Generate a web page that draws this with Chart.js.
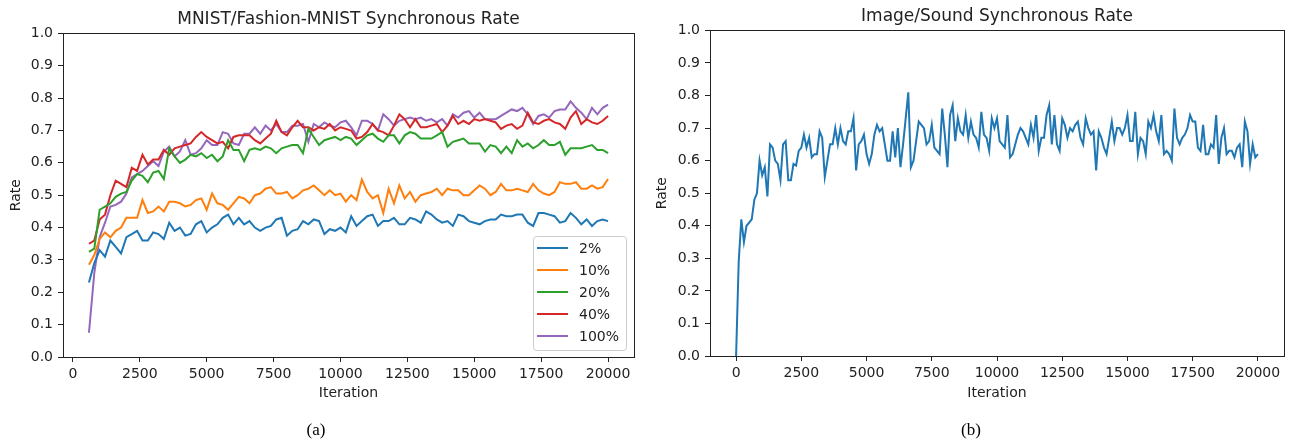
<!DOCTYPE html>
<html>
<head>
<meta charset="utf-8">
<script src="https://cdn.jsdelivr.net/npm/chart.js@4.4.1/dist/chart.umd.min.js"></script>
<style>
  body { margin: 0; background: #fff; }
  #wrap { position: relative; width: 1291px; height: 441px; }
  canvas { position: absolute; top: 0; }
  .cap { position: absolute; top: 430px; transform: translate(-50%, -50%);
         font-family: "Liberation Serif", serif; font-size: 17px; color: #000; }
</style>
</head>
<body>
<div id="wrap">
  <canvas id="chartA" width="645" height="441" style="left:0"></canvas>
  <canvas id="chartB" width="646" height="441" style="left:645px"></canvas>
  <div class="cap" style="left:316px">(a)</div>
  <div class="cap" style="left:971px">(b)</div>
</div>
<script>
// (a) iterations 600..20000, every 200
const startA = 600, stepA = 200;
const seriesNames = ['2%', '10%', '20%', '40%', '100%'];
const seriesColors = ['#1f77b4', '#ff7f0e', '#2ca02c', '#d62728', '#9467bd'];

const rate2 = [0.23,0.29,0.33,0.31,0.36,0.34,0.32,0.37,0.38,0.39,
  0.36,0.36,0.385,0.38,0.365,0.415,0.39,0.40,0.375,0.38,
  0.41,0.42,0.385,0.40,0.41,0.43,0.44,0.41,0.43,0.41,
  0.42,0.40,0.39,0.40,0.405,0.425,0.43,0.375,0.39,0.395,
  0.42,0.41,0.425,0.42,0.38,0.395,0.39,0.40,0.385,0.435,
  0.405,0.42,0.435,0.44,0.405,0.42,0.42,0.43,0.41,0.41,
  0.43,0.425,0.415,0.45,0.44,0.425,0.415,0.42,0.405,0.44,
  0.435,0.42,0.415,0.41,0.42,0.425,0.425,0.44,0.435,0.435,
  0.44,0.44,0.415,0.405,0.445,0.445,0.44,0.435,0.415,0.42,
  0.445,0.43,0.41,0.425,0.405,0.42,0.425,0.42];
const rate10 = [0.285,0.315,0.365,0.385,0.37,0.39,0.40,0.43,0.43,0.43,
  0.485,0.445,0.45,0.465,0.45,0.48,0.48,0.475,0.465,0.47,
  0.485,0.49,0.455,0.505,0.475,0.47,0.455,0.475,0.495,0.49,
  0.475,0.50,0.505,0.52,0.525,0.505,0.505,0.51,0.49,0.50,
  0.515,0.52,0.53,0.515,0.50,0.515,0.50,0.505,0.48,0.50,
  0.485,0.548,0.51,0.49,0.50,0.445,0.52,0.475,0.53,0.49,
  0.51,0.48,0.50,0.505,0.51,0.52,0.50,0.52,0.515,0.515,
  0.50,0.50,0.515,0.53,0.52,0.50,0.51,0.535,0.515,0.515,
  0.52,0.515,0.51,0.535,0.515,0.505,0.50,0.51,0.54,0.535,
  0.535,0.54,0.52,0.52,0.53,0.52,0.525,0.55];
const rate20 = [0.325,0.335,0.455,0.465,0.475,0.495,0.505,0.51,0.545,0.565,
  0.56,0.54,0.57,0.575,0.55,0.645,0.62,0.60,0.61,0.625,
  0.62,0.63,0.615,0.625,0.605,0.62,0.67,0.64,0.64,0.605,
  0.64,0.645,0.64,0.65,0.645,0.63,0.645,0.65,0.655,0.655,
  0.63,0.705,0.68,0.655,0.67,0.675,0.68,0.67,0.68,0.675,
  0.655,0.67,0.685,0.69,0.675,0.665,0.685,0.685,0.66,0.685,
  0.695,0.69,0.675,0.675,0.675,0.685,0.695,0.65,0.665,0.67,
  0.675,0.66,0.66,0.66,0.635,0.655,0.65,0.63,0.65,0.63,
  0.67,0.65,0.66,0.645,0.655,0.67,0.655,0.655,0.665,0.625,
  0.645,0.645,0.645,0.65,0.655,0.64,0.64,0.63];
const rate40 = [0.35,0.36,0.425,0.44,0.50,0.545,0.535,0.525,0.585,0.575,
  0.625,0.595,0.61,0.61,0.64,0.625,0.645,0.65,0.655,0.66,
  0.68,0.695,0.68,0.67,0.66,0.665,0.645,0.68,0.685,0.685,
  0.685,0.67,0.66,0.675,0.69,0.73,0.695,0.685,0.71,0.73,
  0.71,0.71,0.70,0.71,0.705,0.72,0.70,0.71,0.705,0.70,
  0.675,0.68,0.695,0.72,0.70,0.695,0.685,0.715,0.75,0.735,
  0.71,0.735,0.71,0.71,0.715,0.72,0.695,0.715,0.745,0.72,
  0.73,0.72,0.735,0.73,0.735,0.73,0.725,0.705,0.715,0.72,
  0.705,0.715,0.755,0.725,0.72,0.73,0.735,0.725,0.72,0.705,
  0.74,0.76,0.72,0.735,0.725,0.72,0.73,0.745];
const rate100 = [0.075,0.26,0.37,0.415,0.465,0.47,0.48,0.505,0.555,0.565,
  0.575,0.59,0.605,0.59,0.635,0.65,0.62,0.635,0.67,0.625,
  0.63,0.645,0.67,0.655,0.655,0.695,0.69,0.66,0.655,0.69,
  0.69,0.71,0.69,0.715,0.70,0.72,0.695,0.695,0.715,0.715,
  0.72,0.665,0.72,0.71,0.725,0.715,0.71,0.725,0.73,0.71,
  0.685,0.73,0.73,0.72,0.70,0.75,0.735,0.715,0.73,0.735,
  0.74,0.735,0.74,0.73,0.735,0.725,0.735,0.715,0.75,0.74,
  0.755,0.76,0.74,0.755,0.735,0.735,0.735,0.745,0.755,0.765,
  0.76,0.77,0.75,0.72,0.745,0.75,0.74,0.76,0.765,0.765,
  0.79,0.77,0.755,0.735,0.77,0.75,0.77,0.78];

// (b) iterations 0..20000, every 100
const startB = 0, stepB = 100;
const rateSound = [0,0.29,0.42,0.35,0.40,0.41,0.42,0.48,0.50,0.60,
  0.555,0.58,0.49,0.65,0.64,0.60,0.59,0.54,0.65,0.66,
  0.54,0.54,0.59,0.585,0.63,0.64,0.68,0.64,0.67,0.61,
  0.62,0.62,0.69,0.67,0.55,0.60,0.65,0.65,0.70,0.65,
  0.70,0.66,0.65,0.69,0.69,0.73,0.57,0.65,0.66,0.68,
  0.62,0.59,0.62,0.68,0.71,0.69,0.70,0.65,0.60,0.60,
  0.69,0.61,0.70,0.58,0.65,0.73,0.81,0.58,0.60,0.66,
  0.72,0.71,0.70,0.65,0.66,0.71,0.64,0.63,0.62,0.76,
  0.68,0.58,0.74,0.77,0.66,0.73,0.69,0.68,0.74,0.67,
  0.72,0.68,0.67,0.64,0.75,0.68,0.67,0.63,0.73,0.70,
  0.73,0.66,0.65,0.64,0.74,0.61,0.62,0.65,0.68,0.70,
  0.69,0.67,0.65,0.71,0.67,0.74,0.63,0.67,0.67,0.74,
  0.77,0.65,0.74,0.65,0.63,0.73,0.71,0.67,0.70,0.69,
  0.71,0.72,0.67,0.65,0.73,0.70,0.68,0.69,0.57,0.69,
  0.67,0.64,0.62,0.67,0.72,0.66,0.70,0.70,0.68,0.70,
  0.74,0.66,0.66,0.75,0.62,0.67,0.66,0.62,0.72,0.70,
  0.74,0.69,0.66,0.74,0.62,0.63,0.62,0.60,0.76,0.67,
  0.65,0.67,0.68,0.70,0.74,0.72,0.72,0.64,0.63,0.71,
  0.62,0.62,0.65,0.64,0.74,0.59,0.67,0.70,0.62,0.63,
  0.63,0.61,0.64,0.65,0.58,0.72,0.69,0.59,0.65,0.61,0.62];

const xTicks = [0, 2500, 5000, 7500, 10000, 12500, 15000, 17500, 20000];
const yTicks = [0, 0.1, 0.2, 0.3, 0.4, 0.5, 0.6, 0.7, 0.8, 0.9, 1.0];

const FONT = '"DejaVu Sans", sans-serif';
const INK = '#222';

function toPoints(vals, start, step) {
  return vals.map((v, i) => ({ x: start + i * step, y: v }));
}

// full box around the plot, like matplotlib spines
const spines = {
  id: 'spines',
  afterDatasetsDraw(chart) {
    const a = chart.chartArea, ctx = chart.ctx;
    ctx.save();
    ctx.strokeStyle = INK;
    ctx.lineWidth = 1;
    ctx.strokeRect(Math.round(a.left) + 0.5, Math.round(a.top) + 0.5,
      Math.round(a.right - a.left), Math.round(a.bottom - a.top));
    ctx.restore();
  }
};

// legend box in the lower right corner of the plot
const boxLegend = {
  id: 'boxLegend',
  afterDraw(chart) {
    const a = chart.chartArea, ctx = chart.ctx;
    const w = 93, h = 114;
    const left = a.right - 8 - w, top = a.bottom - 7 - h;
    ctx.save();
    ctx.beginPath();
    ctx.roundRect(left + 0.5, top + 0.5, w, h, 3);
    ctx.fillStyle = 'rgba(255,255,255,0.85)';
    ctx.fill();
    ctx.strokeStyle = '#cccccc';
    ctx.lineWidth = 1;
    ctx.stroke();
    ctx.font = '14px ' + FONT;
    ctx.textBaseline = 'middle';
    chart.data.datasets.forEach((ds, k) => {
      const y = top + 12 + 22 * k;
      ctx.strokeStyle = ds.borderColor;
      ctx.lineWidth = 2;
      ctx.beginPath();
      ctx.moveTo(left + 4, y);
      ctx.lineTo(left + 35, y);
      ctx.stroke();
      ctx.fillStyle = INK;
      ctx.fillText(ds.label, left + 46, y + 1);
    });
    ctx.restore();
  }
};

function makeOptions(title, xMin, xMax, yWidth, xHeight, padRight, titlePad, yTitlePad) {
  return {
    responsive: false,
    animation: false,
    layout: { padding: { left: 0, right: padRight, top: 0, bottom: 0 } },
    plugins: {
      legend: { display: false },
      tooltip: { enabled: false },
      title: {
        display: true, text: title, color: INK, fullSize: false,
        font: { family: FONT, size: 17, weight: 'normal' },
        padding: titlePad
      }
    },
    scales: {
      x: {
        type: 'linear', min: xMin, max: xMax,
        afterBuildTicks: s => { s.ticks = xTicks.map(v => ({ value: v })); },
        afterFit: s => { s.height = xHeight; },
        ticks: { color: INK, font: { family: FONT, size: 14 }, padding: 4, maxRotation: 0,
                 callback: v => String(v) },
        grid: { drawOnChartArea: false, drawTicks: true, tickLength: 5, color: INK },
        border: { display: false },
        title: { display: true, text: 'Iteration', color: INK,
                 font: { family: FONT, size: 14 }, padding: { top: 4, bottom: 39 } }
      },
      y: {
        min: 0, max: 1,
        afterBuildTicks: s => { s.ticks = yTicks.map(v => ({ value: v })); },
        afterFit: s => { s.width = yWidth; },
        ticks: { color: INK, font: { family: FONT, size: 14 }, padding: 5,
                 callback: v => v.toFixed(1) },
        grid: { drawOnChartArea: false, drawTicks: true, tickLength: 5, color: INK },
        border: { display: false },
        title: { display: true, text: 'Rate', color: INK,
                 font: { family: FONT, size: 14 }, padding: { top: yTitlePad, bottom: 4 } }
      }
    }
  };
}

const seriesA = [rate2, rate10, rate20, rate40, rate100];

new Chart(document.getElementById('chartA'), {
  type: 'line',
  data: {
    datasets: seriesA.map((vals, k) => ({
      label: seriesNames[k],
      data: toPoints(vals, startA, stepA),
      borderColor: seriesColors[k],
      borderWidth: 2,
      pointRadius: 0,
      tension: 0,
      fill: false
    }))
  },
  options: makeOptions('MNIST/Fashion-MNIST Synchronous Rate', -370, 20970, 63, 84, 11,
    { top: 9, bottom: 4 }, 8),
  plugins: [spines, boxLegend]
});

new Chart(document.getElementById('chartB'), {
  type: 'line',
  data: {
    datasets: [{
      label: 'Image/Sound',
      data: toPoints(rateSound, startB, stepB),
      borderColor: seriesColors[0],
      borderWidth: 2,
      pointRadius: 0,
      tension: 0,
      fill: false
    }]
  },
  options: makeOptions('Image/Sound Synchronous Rate', -1000, 21000, 65, 85, 7,
    { top: 6, bottom: 4 }, 9),
  plugins: [spines]
});
</script>
</body>
</html>
